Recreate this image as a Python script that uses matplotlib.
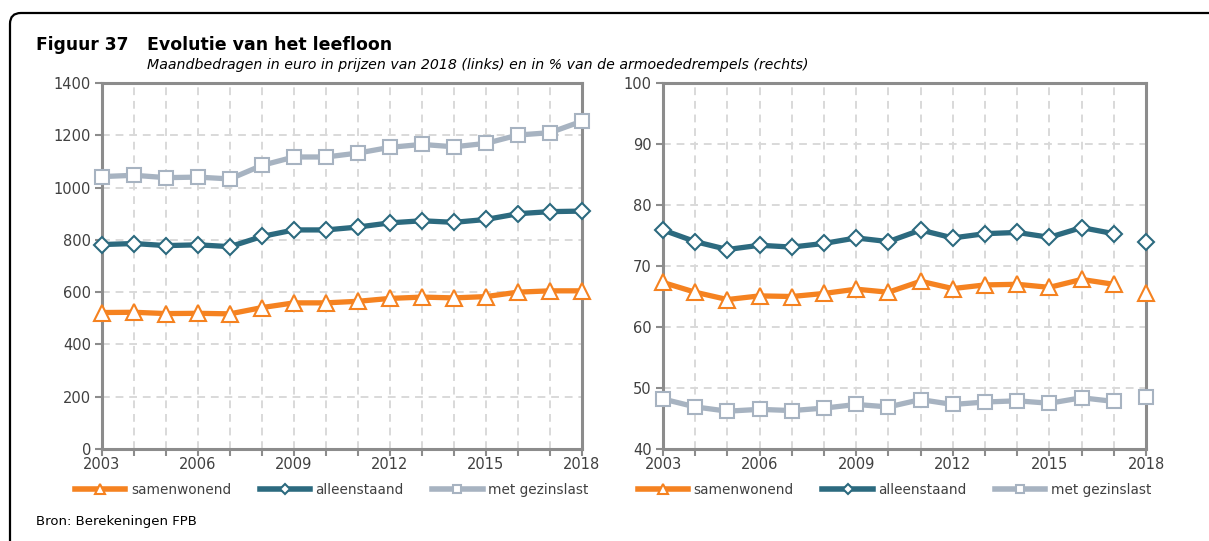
import matplotlib.pyplot as plt
from matplotlib.lines import Line2D
from matplotlib.patches import FancyBboxPatch
from matplotlib.ticker import MultipleLocator

years = list(range(2003, 2019))

# Maandbedragen (euro, prijzen 2018)
eur_samenwonend = [522, 523, 518, 519, 517, 541, 559, 559, 565, 576, 581, 578, 583, 600, 605, 605]
eur_alleenstaand = [782, 786, 778, 781, 774, 813, 838, 838, 849, 865, 873, 867, 878, 900, 908, 910]
eur_gezinslast = [1042, 1047, 1038, 1040, 1033, 1085, 1117, 1117, 1132, 1154, 1165, 1156, 1169, 1201, 1210, 1254]

# In % van de armoededrempels
pct_samenwonend = [67.3, 65.7, 64.5, 65.1, 65.0, 65.5, 66.2, 65.7, 67.5, 66.3, 66.9, 67.0, 66.5, 67.8, 67.0, 65.6]
pct_alleenstaand = [75.9, 74.0, 72.7, 73.4, 73.1, 73.7, 74.6, 74.0, 75.9, 74.6, 75.3, 75.5, 74.7, 76.3, 75.3, 74.0]
pct_gezinslast = [48.2, 46.9, 46.2, 46.5, 46.3, 46.7, 47.3, 46.9, 48.1, 47.3, 47.7, 47.9, 47.5, 48.4, 47.8, 48.6]

series_names = ["samenwonend", "alleenstaand", "met gezinslast"]

ORANGE = "#F58220"
TEAL = "#2C6A7F"
GREY = "#A7B3C1"
SPINE = "#8C8C8C"
GRID = "#D9D9D9"
TXT = "#404040"

STYLES = [
    dict(color=ORANGE, marker="^", ms=12),
    dict(color=TEAL, marker="D", ms=8.5),
    dict(color=GREY, marker="s", ms=9.5),
]

plt.rcParams["font.family"] = "DejaVu Sans"

W, H = 1209, 541
fig = plt.figure(figsize=(W / 100, H / 100), dpi=100)

# rounded frame around the figure (open to the right and bottom)
frame = FancyBboxPatch((10 / W, -0.2), 1.2, 1.2 - 13 / H,
                       boxstyle="round,pad=0,rounding_size=0.009",
                       transform=fig.transFigure, fill=False,
                       ec="black", lw=1.6, mutation_aspect=W / H)
fig.patches.append(frame)

fig.text(36 / W, 1 - 45 / H, "Figuur 37", fontsize=12.3, fontweight="bold",
         va="center", ha="left")
fig.text(147 / W, 1 - 45 / H, "Evolutie van het leefloon", fontsize=12.5,
         fontweight="bold", va="center", ha="left")
fig.text(147 / W, 1 - 65 / H,
         "Maandbedragen in euro in prijzen van 2018 (links) en in % van de armoededrempels (rechts)",
         fontsize=10.2, style="italic", va="center", ha="left")
fig.text(36 / W, 1 - 522 / H, "Bron: Berekeningen FPB", fontsize=9.5,
         va="center", ha="left")


def style_axes(ax, ylim, ystep):
    ax.set_xlim(years[0], years[-1])
    ax.set_ylim(*ylim)
    ax.set_xticks(years[::3])
    ax.xaxis.set_minor_locator(MultipleLocator(1))
    ax.yaxis.set_major_locator(MultipleLocator(ystep))
    ax.grid(which="both", axis="x", color=GRID, ls=(0, (4, 3)), lw=1.4)
    ax.grid(which="major", axis="y", color=GRID, ls=(0, (4, 3)), lw=1.4)
    ax.set_axisbelow(True)
    for s in ax.spines.values():
        s.set_color(SPINE)
        s.set_linewidth(2.2)
    ax.tick_params(which="both", axis="both", color=SPINE, width=1.5,
                   labelcolor=TXT, labelsize=10.5)
    ax.tick_params(axis="x", which="both", length=5, pad=1)
    ax.tick_params(axis="y", length=5, pad=3)


def add_legend(ax, x0):
    handles = [Line2D([], [], color=st["color"], lw=4, marker=st["marker"],
                      ms=st["ms"] * 0.6, mfc="white", mec=st["color"], mew=1.5)
               for st in STYLES]
    ax.legend(handles, series_names, loc="center left", bbox_to_anchor=(x0, -0.112),
              ncol=3, frameon=False, fontsize=9.8, handlelength=3.7,
              columnspacing=2.1, handletextpad=0.4, labelcolor=TXT,
              borderaxespad=0, borderpad=0)


# Links: euro
ax1 = fig.add_axes([102 / W, 1 - 449 / H, 480 / W, 366 / H])
for vals, st in zip([eur_samenwonend, eur_alleenstaand, eur_gezinslast], STYLES):
    ax1.plot(years, vals, color=st["color"], lw=3.8, marker=st["marker"], ms=st["ms"],
             mfc="white", mec=st["color"], mew=1.5, clip_on=False, zorder=3)
style_axes(ax1, (0, 1400), 200)
add_legend(ax1, -0.056)

# Rechts: % van de armoededrempels (2018 los van de reeks)
ax2 = fig.add_axes([663 / W, 1 - 449 / H, 483 / W, 366 / H])
for vals, st in zip([pct_samenwonend, pct_alleenstaand, pct_gezinslast], STYLES):
    ax2.plot(years[:-1], vals[:-1], color=st["color"], lw=3.8, marker=st["marker"],
             ms=st["ms"], mfc="white", mec=st["color"], mew=1.5, clip_on=False, zorder=3)
    ax2.plot(years[-1:], vals[-1:], ls="none", marker=st["marker"], ms=st["ms"],
             mfc="white", mec=st["color"], mew=1.5, clip_on=False, zorder=3)
style_axes(ax2, (40, 100), 10)
add_legend(ax2, -0.052)

fig.savefig("out.png", dpi=100)
